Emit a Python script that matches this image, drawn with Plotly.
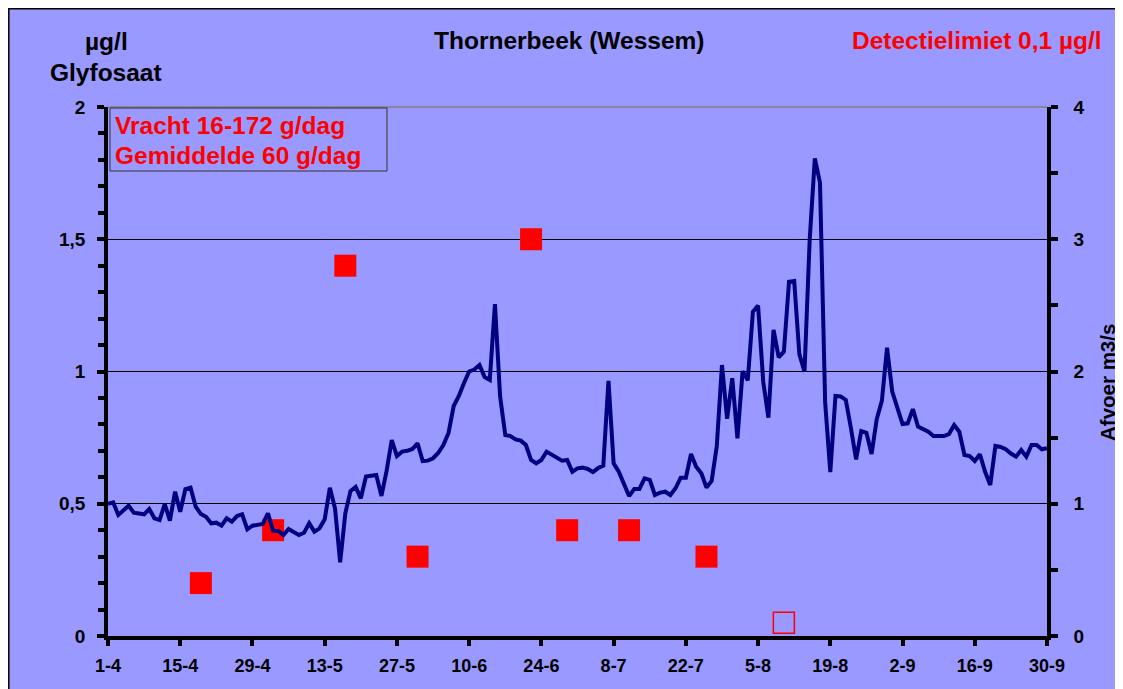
import pandas as pd
import plotly.graph_objects as go

# ---- data ----
start_date = "2003-04-01"
end_date = "2003-09-30"

afvoer = [
    1.00, 1.01, 0.915, 0.947, 0.985, 0.932, 0.928, 0.920, 0.960, 0.890,
    0.877, 0.998, 0.872, 1.091, 0.940, 1.111, 1.121, 0.978, 0.922, 0.902,
    0.852, 0.857, 0.834, 0.890, 0.864, 0.907, 0.920, 0.807, 0.834, 0.839,
    0.847, 0.928, 0.796, 0.794, 0.764, 0.809, 0.789, 0.764, 0.781, 0.852,
    0.789, 0.814, 0.882, 1.121, 0.966, 0.557, 0.928, 1.096, 1.127, 1.041,
    1.206, 1.21, 1.217, 1.059, 1.248, 1.482, 1.361, 1.394, 1.40, 1.414,
    1.457, 1.323, 1.326, 1.344, 1.384, 1.444, 1.535, 1.739, 1.815, 1.913,
    2.00, 2.015, 2.049, 1.958, 1.936, 2.51, 1.81, 1.52, 1.512, 1.487,
    1.477, 1.444, 1.331, 1.306, 1.331, 1.394, 1.369, 1.346, 1.326, 1.331,
    1.242, 1.268, 1.273, 1.263, 1.240, 1.270, 1.288, 1.930, 1.306, 1.242,
    1.155, 1.059, 1.112, 1.112, 1.192, 1.180, 1.066, 1.084, 1.091, 1.066,
    1.117, 1.197, 1.197, 1.376, 1.280, 1.230, 1.123, 1.172, 1.437, 2.049,
    1.643, 1.949, 1.495, 2.002, 1.933, 2.452, 2.498, 1.923, 1.651, 2.314,
    2.107, 2.150, 2.679, 2.684, 2.132, 1.998, 2.994, 3.612, 3.428, 1.766,
    1.239, 1.815, 1.812, 1.785, 1.571, 1.336, 1.550, 1.537, 1.376, 1.64,
    1.78, 2.18, 1.848, 1.734, 1.603, 1.608, 1.716, 1.583, 1.565, 1.545,
    1.512, 1.512, 1.512, 1.527, 1.595, 1.545, 1.369, 1.361, 1.323, 1.374,
    1.242, 1.142, 1.437, 1.43, 1.412, 1.38, 1.356, 1.406, 1.356, 1.444,
    1.444, 1.412, 1.42,
]

glyfosaat_dates = ["2003-04-19", "2003-05-03", "2003-05-17", "2003-05-31",
                   "2003-06-22", "2003-06-29", "2003-07-11", "2003-07-26"]
glyfosaat_values = [0.2, 0.4, 1.4, 0.3, 1.5, 0.4, 0.4, 0.3]

below_limit_dates = ["2003-08-10"]
below_limit_values = [0.05]

tick_dates = ["2003-04-01", "2003-04-15", "2003-04-29", "2003-05-13", "2003-05-27",
              "2003-06-10", "2003-06-24", "2003-07-08", "2003-07-22", "2003-08-05",
              "2003-08-19", "2003-09-02", "2003-09-16", "2003-09-30"]
tick_labels = ["1-4", "15-4", "29-4", "13-5", "27-5", "10-6", "24-6", "8-7",
               "22-7", "5-8", "19-8", "2-9", "16-9", "30-9"]

dates = pd.date_range(start_date, end_date, freq="D")

# ---- layout geometry (page pixels; the page body adds an 8px offset) ----
OFF = 8
W, H = 1123 - OFF, 689 - OFF
PX0, PX1, PY0, PY1 = 108, 1047, 107, 636   # plot area on the page
L, T = PX0 - OFF, PY0 - OFF
R, B = W - (PX1 - OFF), H - (PY1 - OFF)
PW, PH = PX1 - PX0, PY1 - PY0


def px(x):
    return (x - PX0) / PW


def py(y):
    return (PY1 - y) / PH


FONT = "Arial, Liberation Sans, sans-serif"
BG = "#9999FF"

fig = go.Figure()

fig.add_trace(go.Scatter(
    x=pd.to_datetime(glyfosaat_dates), y=glyfosaat_values, mode="markers",
    marker=dict(symbol="square", size=22, color="#FF0000",
                line=dict(color="#FF0000", width=0)),
    yaxis="y", showlegend=False))

fig.add_trace(go.Scatter(
    x=pd.to_datetime(below_limit_dates), y=below_limit_values, mode="markers",
    marker=dict(symbol="square-open", size=21, color="#FF0000",
                line=dict(color="#FF0000", width=1.5)),
    yaxis="y", showlegend=False))

fig.add_trace(go.Scatter(
    x=dates, y=afvoer, mode="lines",
    line=dict(color="#000080", width=4),
    yaxis="y2", showlegend=False))

axis_font = dict(family=FONT, size=19, color="black", weight="bold")

fig.update_layout(
    width=W, height=H,
    margin=dict(l=L, r=R, t=T, b=B, pad=0),
    paper_bgcolor="white",
    plot_bgcolor="rgba(0,0,0,0)",
    separators=", ",
    font=dict(family=FONT, color="black"),
    xaxis=dict(
        range=[dates[0], dates[-1]],
        tickmode="array",
        tickvals=pd.to_datetime(tick_dates),
        ticktext=tick_labels,
        showline=True, linecolor="black", linewidth=3.5,
        ticks="outside", ticklen=6, tickwidth=3.5, tickcolor="black",
        tickfont=dict(family=FONT, size=18, color="black", weight="bold"),
        ticklabelstandoff=5,
        showgrid=False, zeroline=False,
    ),
    yaxis=dict(
        range=[0, 2], dtick=0.5, tick0=0,
        showline=True, linecolor="black", linewidth=3.5,
        ticks="outside", ticklen=7, tickwidth=3.5, tickcolor="black",
        minor=dict(dtick=0.1, ticks="outside", ticklen=6, tickwidth=3.5,
                   tickcolor="black", showgrid=False),
        tickfont=axis_font,
        ticklabelstandoff=8,
        showgrid=True, gridcolor="black", gridwidth=1,
        zeroline=False,
    ),
    yaxis2=dict(
        range=[0, 4], dtick=1, tick0=0,
        overlaying="y", side="right",
        showline=True, linecolor="black", linewidth=3.5,
        ticks="outside", ticklen=7, tickwidth=3.5, tickcolor="black",
        minor=dict(dtick=0.5, ticks="outside", ticklen=7, tickwidth=3.5,
                   tickcolor="black", showgrid=False),
        tickfont=axis_font,
        ticklabelstandoff=12,
        showgrid=False, zeroline=False,
    ),
)

shapes = [
    # outer chart frame
    dict(type="rect", xref="paper", yref="paper",
         x0=px(8.8), x1=px(1121), y0=py(720), y1=py(8.8),
         fillcolor=BG, line=dict(color="black", width=1.5), layer="below"),
    # grey top border of plot area
    dict(type="line", xref="paper", yref="paper",
         x0=0, x1=1, y0=1, y1=1, line=dict(color="#808080", width=1.5),
         layer="above"),
    # text box
    dict(type="rect", xref="paper", yref="paper",
         x0=px(110), x1=px(387), y0=py(171), y1=py(108),
         fillcolor="rgba(0,0,0,0)", line=dict(color="#333333", width=1),
         layer="above"),
]
fig.update_layout(shapes=shapes)

title_font = dict(family=FONT, size=24.5, color="black", weight="bold")
red_font = dict(family=FONT, size=24.5, color="#FF0000", weight="bold")

annotations = [
    dict(text="µg/l", x=px(106), y=py(42), font=title_font,
         xanchor="center", yanchor="middle"),
    dict(text="Glyfosaat", x=px(106), y=py(72), font=title_font,
         xanchor="center", yanchor="middle"),
    dict(text="Thornerbeek (Wessem)", x=px(569), y=py(41), font=title_font,
         xanchor="center", yanchor="middle"),
    dict(text="Detectielimiet 0,1 µg/l", x=px(977), y=py(41), font=red_font,
         xanchor="center", yanchor="middle"),
    dict(text="Afvoer m3/s", x=px(1107), y=py(383), textangle=-90,
         font=dict(family=FONT, size=20.5, color="black", weight="bold"),
         xanchor="center", yanchor="middle"),
    dict(text="Vracht 16-172 g/dag", x=px(113), y=py(125), font=red_font,
         xanchor="left", yanchor="middle"),
    dict(text="Gemiddelde 60 g/dag", x=px(113), y=py(155), font=red_font,
         xanchor="left", yanchor="middle"),
]
for a in annotations:
    a.update(xref="paper", yref="paper", showarrow=False)
fig.update_layout(annotations=annotations)

fig.write_html("out.html")
